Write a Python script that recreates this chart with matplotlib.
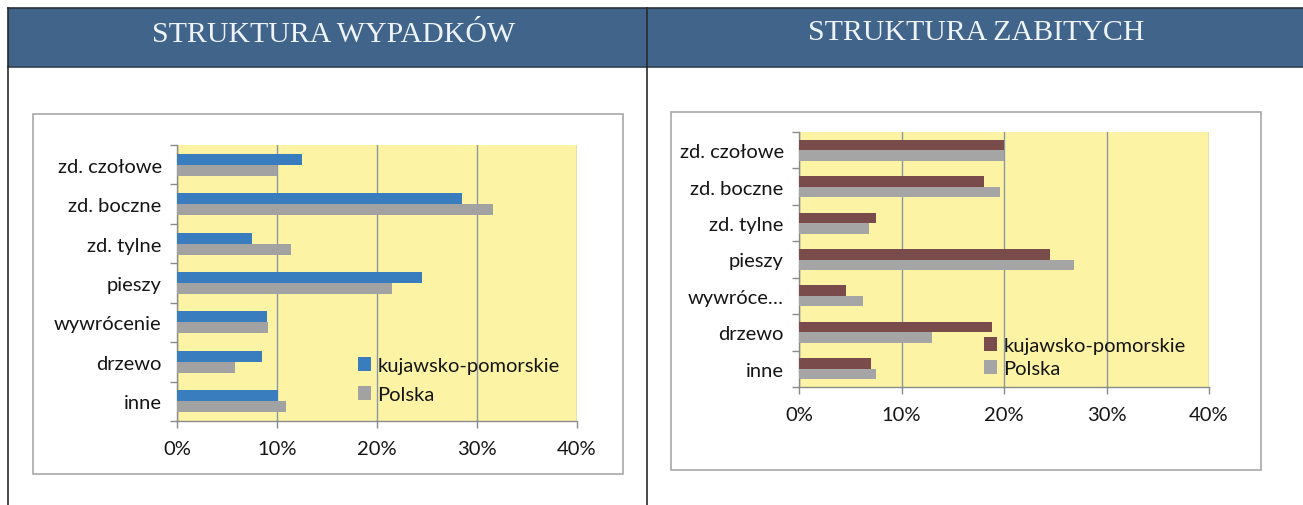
import numpy as np
import matplotlib
matplotlib.use("Agg")
import matplotlib.pyplot as plt
from matplotlib.patches import Rectangle
from matplotlib.lines import Line2D

categories_left = ['zd. czołowe', 'zd. boczne', 'zd. tylne', 'pieszy',
                   'wywrócenie', 'drzewo', 'inne']
categories_right = ['zd. czołowe', 'zd. boczne', 'zd. tylne', 'pieszy',
                    'wywróce…', 'drzewo', 'inne']

# Struktura wypadków (%)
wyp_kuj = [12.5, 28.5, 7.5, 24.5, 9.0, 8.5, 10.1]
wyp_pl = [10.0, 31.6, 11.4, 21.5, 9.1, 5.8, 10.9]

# Struktura zabitych (%)
zab_kuj = [20.0, 18.0, 7.5, 24.5, 4.6, 18.8, 7.0]
zab_pl = [20.0, 19.6, 6.8, 26.8, 6.2, 13.0, 7.5]

series_names = ['kujawsko-pomorskie', 'Polska']
xticks = [0, 10, 20, 30, 40]
xtick_labels = ['0%', '10%', '20%', '30%', '40%']

W, H = 1303, 506
plt.rcParams['font.family'] = ['Lato', 'DejaVu Sans']

fig = plt.figure(figsize=(W / 100, H / 100), dpi=100)
fig.patch.set_facecolor('white')


def rect(x0, y0, x1, y1):
    return [x0 / W, 1 - y1 / H, (x1 - x0) / W, (y1 - y0) / H]


def fx(x):
    return x / W


def fy(y):
    return 1 - y / H


# header band
fig.patches.append(Rectangle((fx(8), fy(68)), 1 - fx(8), fy(9) - fy(68),
                             transform=fig.transFigure, facecolor='#41648b',
                             edgecolor='none', zorder=0))
fig.lines.append(Line2D([fx(8), 1], [fy(9), fy(9)], transform=fig.transFigure,
                        color='#2a2f38', lw=1.2))
fig.lines.append(Line2D([fx(8), 1], [fy(68), fy(68)], transform=fig.transFigure,
                        color='#33404f', lw=1.2))
fig.lines.append(Line2D([fx(8), fx(8)], [fy(9), 0], transform=fig.transFigure,
                        color='#2a2a2a', lw=1.2))
fig.lines.append(Line2D([fx(647), fx(647)], [fy(9), 0], transform=fig.transFigure,
                        color='#2a2a2a', lw=1.2))

fig.text(fx(334), fy(35), 'STRUKTURA WYPADKÓW', ha='center', va='center',
         fontsize=21.5, color='#eef3f8', family=['Liberation Serif', 'DejaVu Serif'])
fig.text(fx(976), fy(33), 'STRUKTURA ZABITYCH', ha='center', va='center',
         fontsize=21.5, color='#eef3f8', family=['Liberation Serif', 'DejaVu Serif'])

# chart boxes
for box in [(33, 115, 623, 475), (671, 113, 1261, 471)]:
    x0, y0, x1, y1 = box
    fig.patches.append(Rectangle((fx(x0), fy(y1)), fx(x1) - fx(x0), fy(y0) - fy(y1),
                                 transform=fig.transFigure, facecolor='white',
                                 edgecolor='#a8a8a8', lw=1.2, zorder=0))


def draw_chart(ax, cats, kuj, pl, c_kuj, c_pl, h, legend_xy, spacing):
    n = len(cats)
    y = np.arange(n)
    ax.set_zorder(1)
    ax.set_facecolor('#fcf4a4')
    ax.barh(y - h / 2, kuj, height=h, color=c_kuj, label=series_names[0], zorder=3)
    ax.barh(y + h / 2, pl, height=h, color=c_pl, label=series_names[1], zorder=3)
    ax.set_xlim(0, 40)
    ax.set_ylim(n - 0.5, -0.5)
    ax.set_xticks(xticks)
    ax.set_xticklabels(xtick_labels)
    ax.set_yticks(y)
    ax.set_yticklabels(cats)
    ax.set_yticks(np.arange(n + 1) - 0.5, minor=True)
    ax.tick_params(axis='y', which='major', length=0, pad=11, labelsize=14.5, colors='#151515')
    ax.tick_params(axis='y', which='minor', length=5, color='#8a8a8a', width=1)
    ax.tick_params(axis='x', length=5, color='#8a8a8a', width=1, pad=9,
                   labelsize=14.5, colors='#151515')
    ax.xaxis.grid(True, color='#8d96a8', lw=1, zorder=1)
    for s in ['top', 'right']:
        ax.spines[s].set_visible(False)
    for s in ['left', 'bottom']:
        ax.spines[s].set_color('#8a8a8a')
        ax.spines[s].set_linewidth(1)
    leg = ax.legend(loc='upper left', bbox_to_anchor=(fx(legend_xy[0]), fy(legend_xy[1])),
                    bbox_transform=fig.transFigure, frameon=False, fontsize=14.5,
                    handlelength=0.65, handleheight=0.65, handletextpad=0.3,
                    labelspacing=spacing, borderpad=0, borderaxespad=0)
    for t in leg.get_texts():
        t.set_color('#151515')


ax1 = fig.add_axes(rect(177, 146, 577, 422))
draw_chart(ax1, categories_left, wyp_kuj, wyp_pl, '#3a7dbf', '#a2a2a2', 0.28,
           (358, 358), 0.6)

ax2 = fig.add_axes(rect(799, 133, 1209, 388))
draw_chart(ax2, categories_right, zab_kuj, zab_pl, '#7a4b4b', '#a5a5a5', 0.29,
           (984, 338), 0.3)

fig.savefig('out.png', dpi=100)
